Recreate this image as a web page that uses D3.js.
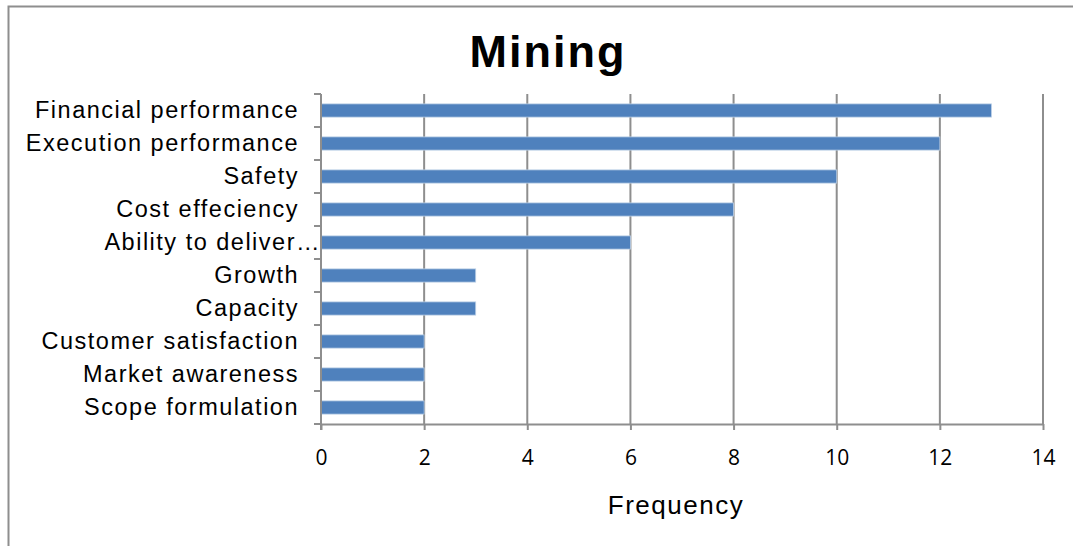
<!DOCTYPE html>
<html>
<head>
<meta charset="utf-8">
<script src="https://cdn.jsdelivr.net/npm/d3@7"></script>
<style>
  body { margin: 0; background: #fff; }
  text { font-family: "Liberation Sans", Arial, sans-serif; }
</style>
</head>
<body>
<div id="chart"></div>
<script>
// data
var categories = ["Financial performance", "Execution performance", "Safety", "Cost effeciency",
  "Ability to deliver\u2026", "Growth", "Capacity", "Customer satisfaction", "Market awareness", "Scope formulation"];
var frequency = [13, 12, 10, 8, 6, 3, 3, 2, 2, 2];
var xTicks = [0, 2, 4, 6, 8, 10, 12, 14];

var W = 1073, H = 546;
var margin = {top: 94, right: 30, bottom: 122, left: 321},
    width = 1043 - margin.left,
    height = 424 - margin.top;

var svg = d3.select("#chart")
  .append("svg")
    .attr("width", W)
    .attr("height", H);

// outer frame
svg.append("rect")
  .attr("x", 8.5).attr("y", 6.5)
  .attr("width", W + 10).attr("height", H + 10)
  .attr("fill", "none")
  .attr("stroke", "#8e8e8e")
  .attr("stroke-width", 2);

var g = svg.append("g")
  .attr("transform", "translate(" + margin.left + "," + margin.top + ")");

var x = d3.scaleLinear().domain([0, 14]).range([0, width]);
var y = d3.scaleBand().domain(categories).range([0, height]).paddingInner(0.6).paddingOuter(0.3);

// vertical grid lines
g.selectAll(".grid")
  .data(xTicks.slice(1))
  .enter()
  .append("line")
    .attr("x1", d => x(d)).attr("x2", d => x(d))
    .attr("y1", 0).attr("y2", height)
    .style("stroke", "#8e8e8e")
    .style("stroke-width", 2);

// bars
g.selectAll(".bar")
  .data(frequency)
  .enter()
  .append("rect")
    .attr("x", 0)
    .attr("y", (d, i) => y(categories[i]))
    .attr("width", d => x(d))
    .attr("height", y.bandwidth())
    .style("fill", "#4f81bd")
    .style("stroke", "#bcd0e6")
    .style("stroke-width", 0.8);

// x axis
var xAxis = g.append("g")
  .attr("transform", "translate(0," + height + ")")
  .call(d3.axisBottom(x).tickValues(xTicks).tickSize(6).tickSizeOuter(0).tickPadding(20));
xAxis.select(".domain").style("stroke", "#8e8e8e").style("stroke-width", 2);
xAxis.selectAll(".tick line").style("stroke", "#8e8e8e").style("stroke-width", 2);
xAxis.selectAll("text")
  .style("font-family", "'Open Sans', 'DejaVu Sans', sans-serif")
  .style("font-size", "21px")
  .style("fill", "#000");

// y axis: ticks between categories
var yBoundaries = d3.range(categories.length + 1).map(i => i * height / categories.length);
g.append("line")
  .attr("x1", 0).attr("x2", 0).attr("y1", 0).attr("y2", height + 6)
  .style("stroke", "#8e8e8e").style("stroke-width", 2);
g.selectAll(".ytick")
  .data(yBoundaries)
  .enter()
  .append("line")
    .attr("x1", -7).attr("x2", 0)
    .attr("y1", d => d).attr("y2", d => d)
    .style("stroke", "#8e8e8e").style("stroke-width", 2);

var labels = g.selectAll(".ylabel")
  .data(categories)
  .enter()
  .append("text")
    .attr("x", -22)
    .attr("y", d => y(d) + y.bandwidth() / 2)
    .attr("dy", "0.34em")
    .attr("text-anchor", "end")
    .style("font-size", "23.5px")
    .style("letter-spacing", "1.5px")
    .style("fill", "#000");

// truncated labels: the ellipsis hangs past the normal right edge
labels.each(function(d) {
  var t = d3.select(this);
  if (d.endsWith("\u2026")) {
    t.append("tspan").text(d.slice(0, -1));
    var e = t.append("tspan").text("\u2026");
    var w = e.node().getComputedTextLength();
    t.attr("x", -22 + w - 3);
  } else {
    t.text(d);
  }
});

// title
svg.append("text")
  .attr("x", 548).attr("y", 67)
  .attr("text-anchor", "middle")
  .style("font-size", "45px")
  .style("font-weight", "bold")
  .style("letter-spacing", "2px")
  .text("Mining");

// x axis title
svg.append("text")
  .attr("x", 676).attr("y", 514)
  .attr("text-anchor", "middle")
  .style("font-size", "26px")
  .style("letter-spacing", "1.5px")
  .text("Frequency");
</script>
</body>
</html>
